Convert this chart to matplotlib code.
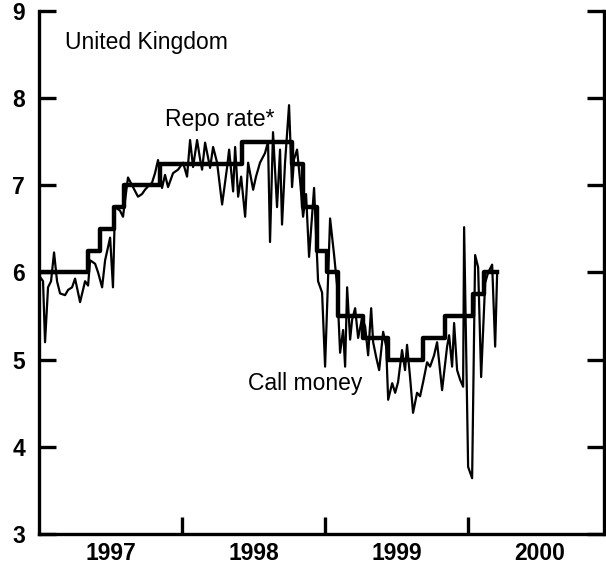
import numpy as np
import matplotlib
matplotlib.use('Agg')
import matplotlib.pyplot as plt
from matplotlib.ticker import FixedLocator, NullFormatter, FixedFormatter

plt.rcParams['font.family'] = ['Liberation Sans', 'DejaVu Sans']

# repo rate steps (decimal years, percent)
repo_t = [1997.000, 1997.342, 1997.427, 1997.521, 1997.597, 1997.847, 1998.422,
          1998.770, 1998.847, 1998.943, 1999.016, 1999.093, 1999.266, 1999.438,
          1999.685, 1999.841, 2000.033, 2000.110, 2000.203]
repo_v = [6.00, 6.25, 6.50, 6.75, 7.00, 7.25, 7.50,
          7.25, 6.75, 6.25, 6.00, 5.50, 5.25, 5.00,
          5.25, 5.50, 5.75, 6.00, 6.00]

# call money rate (offset in years from 1997)
call_dt = [0.007, 0.028, 0.042, 0.063, 0.084, 0.105, 0.126, 0.147, 0.182, 0.203,
           0.231, 0.252, 0.287, 0.322, 0.343, 0.357, 0.392, 0.413, 0.441, 0.462,
           0.497, 0.517, 0.531, 0.566, 0.587, 0.622, 0.657, 0.692, 0.720, 0.741,
           0.769, 0.790, 0.811, 0.832, 0.860, 0.881, 0.902, 0.937, 0.972, 1.007,
           1.035, 1.056, 1.077, 1.105, 1.126, 1.140, 1.161, 1.196, 1.217, 1.245,
           1.280, 1.315, 1.329, 1.357, 1.371, 1.392, 1.413, 1.441, 1.462, 1.497,
           1.517, 1.545, 1.580, 1.601, 1.615, 1.636, 1.664, 1.685, 1.699, 1.720,
           1.748, 1.769, 1.783, 1.804, 1.825, 1.846, 1.867, 1.888, 1.923, 1.951,
           1.979, 2.000, 2.035, 2.063, 2.084, 2.105, 2.126, 2.140, 2.154, 2.175,
           2.189, 2.210, 2.231, 2.259, 2.280, 2.301, 2.322, 2.336, 2.357, 2.378,
           2.406, 2.427, 2.441, 2.469, 2.490, 2.510, 2.538, 2.559, 2.573, 2.594,
           2.615, 2.643, 2.664, 2.685, 2.713, 2.734, 2.762, 2.783, 2.818, 2.853,
           2.867, 2.888, 2.902, 2.923, 2.944, 2.965, 2.972, 3.000, 3.028, 3.049,
           3.070, 3.091, 3.119, 3.140, 3.168, 3.189, 3.203]
call_v = [5.95, 5.90, 5.20, 5.83, 5.90, 6.23, 5.90, 5.76, 5.74, 5.80,
          5.83, 5.93, 5.66, 5.90, 5.85, 6.14, 6.10, 6.00, 5.83, 6.14,
          6.40, 5.83, 6.75, 6.71, 6.64, 7.09, 6.98, 6.87, 6.90, 6.95,
          7.00, 7.03, 7.14, 7.29, 6.97, 7.12, 6.98, 7.14, 7.18, 7.26,
          7.10, 7.52, 7.21, 7.52, 7.30, 7.18, 7.49, 7.20, 7.44, 7.26,
          6.78, 7.21, 7.41, 6.93, 7.44, 6.87, 7.10, 6.64, 7.26, 6.95,
          7.10, 7.26, 7.37, 7.50, 6.35, 7.61, 6.75, 7.41, 6.55, 7.26,
          7.92, 6.98, 7.30, 7.41, 7.06, 6.64, 6.90, 6.18, 6.97, 5.90,
          5.77, 4.92, 6.62, 6.20, 5.85, 5.08, 5.34, 4.92, 5.83, 5.23,
          5.46, 5.59, 5.25, 5.48, 5.38, 5.05, 5.59, 5.20, 5.03, 4.88,
          5.32, 5.15, 4.54, 4.73, 4.62, 4.74, 5.11, 4.88, 5.17, 4.80,
          4.39, 4.62, 4.58, 4.74, 4.97, 4.92, 5.05, 5.20, 4.65, 5.15,
          5.28, 4.92, 5.42, 4.88, 4.77, 4.69, 6.52, 3.77, 3.64, 6.20,
          6.06, 4.80, 5.88, 6.00, 6.09, 5.15, 6.00]
call_t = 1997 + np.array(call_dt)

year_edges = [1998, 1999, 2000]
year_mid = [1997.5, 1998.5, 1999.5, 2000.5]
year_labels = ['1997', '1998', '1999', '2000']
y_ticks = [3, 4, 5, 6, 7, 8, 9]

fig = plt.figure(figsize=(6.06, 5.65), dpi=100)
ax = fig.add_axes([0.0644, 0.0549, 0.9323, 0.9256])

ax.plot(call_t, call_v, color='black', lw=1.6)
ax.step(repo_t, repo_v, where='post', color='black', lw=3.2)

ax.set_xlim(1997.0, 2000.95)
ax.set_ylim(3, 9)

ax.spines['top'].set_visible(False)
for s in ['left', 'right', 'bottom']:
    ax.spines[s].set_linewidth(2.4)

ax.xaxis.set_major_locator(FixedLocator(year_edges))
ax.xaxis.set_major_formatter(NullFormatter())
ax.xaxis.set_minor_locator(FixedLocator(year_mid))
ax.xaxis.set_minor_formatter(FixedFormatter(year_labels))
ax.tick_params(axis='x', which='major', direction='in', length=12, width=2.4)
ax.tick_params(axis='x', which='minor', length=0, pad=6, labelsize=16.5)

ax.yaxis.set_major_locator(FixedLocator(y_ticks))
ax.yaxis.set_minor_locator(FixedLocator([9]))
ax.yaxis.set_minor_formatter(NullFormatter())
ax.tick_params(axis='y', which='major', direction='in', length=12, width=2.4,
               left=True, right=True, pad=10, labelsize=16.5)
ax.tick_params(axis='y', which='minor', direction='in', length=26, width=2.4,
               left=True, right=True)

for lab in ax.get_xticklabels(minor=True) + ax.get_yticklabels():
    lab.set_fontweight('bold')

ax.text(1997.18, 8.64, 'United Kingdom', fontsize=16.5, ha='left', va='center')
ax.text(1997.88, 7.75, 'Repo rate*', fontsize=16.5, ha='left', va='center')
ax.text(1998.46, 4.73, 'Call money', fontsize=16.5, ha='left', va='center')

fig.savefig('out.png', dpi=100)
